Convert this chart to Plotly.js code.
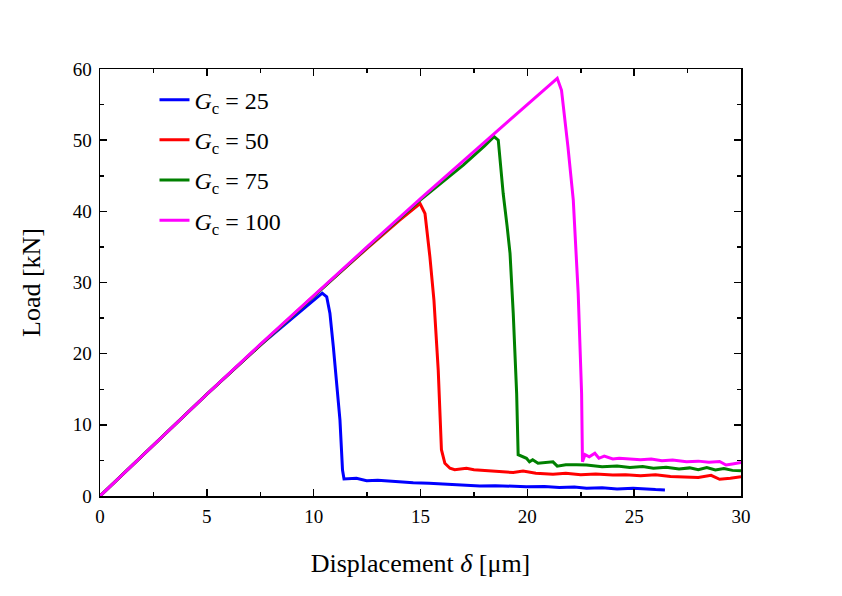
<!DOCTYPE html>
<html>
<head>
<meta charset="utf-8">
<script src="https://cdn.plot.ly/plotly-3.0.1.min.js"></script>
<style>
  html, body { margin: 0; padding: 0; background: #fff; }
  #chart { width: 842px; height: 596px; }
</style>
</head>
<body>
<div id="chart"></div>
<script>
// values
const seriesNames = ['<i>G</i><sub>c</sub> = 25', '<i>G</i><sub>c</sub> = 50',
                     '<i>G</i><sub>c</sub> = 75', '<i>G</i><sub>c</sub> = 100'];

const gc25X = [0, 2.5, 5, 7.5, 9.0, 9.8, 10.4, 10.61, 10.76, 10.92, 11.07, 11.23, 11.35, 11.42,
    12.0, 12.48, 13.0, 13.6, 14.66, 15.4, 16.22, 17.0, 17.78, 18.5, 19.2, 19.96, 20.8, 21.5,
    22.2, 22.77, 23.5, 24.2, 24.95, 25.5, 26.0, 26.44];
const gc25Y = [0, 7.2, 14.3, 21.2, 25.0, 26.9, 28.5, 28.0, 25.7, 21.0, 16.3, 10.7, 3.65, 2.4,
    2.5, 2.15, 2.2, 2.05, 1.87, 1.8, 1.68, 1.6, 1.4, 1.45, 1.4, 1.3, 1.35, 1.2,
    1.25, 1.08, 1.15, 1.0, 1.1, 0.95, 0.9, 0.85];

const gc50X = [0, 2.5, 5, 7.5, 10, 12.5, 14.0, 14.98, 15.21, 15.44, 15.63, 15.83, 15.94, 15.98,
    16.14, 16.38, 16.6, 16.9, 17.15, 17.5, 18.0, 18.6, 19.34, 19.8, 20.4, 21.2, 21.8, 22.5,
    23.2, 24.0, 24.6, 25.3, 26.0, 26.7, 27.45, 28.0, 28.6, 29.0, 29.5, 30.0];
const gc50Y = [0, 7.2, 14.3, 21.2, 28.1, 34.8, 38.7, 41.1, 39.7, 33.6, 27.5, 17.7, 10.7, 6.5,
    4.6, 3.9, 3.7, 3.8, 3.9, 3.7, 3.6, 3.5, 3.3, 3.5, 3.2, 3.05, 3.2, 3.0,
    3.1, 2.95, 3.0, 2.85, 3.0, 2.75, 2.7, 2.6, 2.9, 2.35, 2.5, 2.7];

const gc75X = [0, 2.5, 5, 7.5, 10, 12.5, 15, 17.0, 18.0, 18.44, 18.64, 18.87, 19.05, 19.19,
    19.34, 19.44, 19.5, 19.57, 19.75, 19.96, 20.1, 20.25, 20.5, 20.9, 21.2, 21.4, 21.8, 22.3,
    22.77, 23.5, 24.2, 24.8, 25.4, 25.9, 26.5, 27.1, 27.6, 28.0, 28.4, 28.8, 29.2, 29.6, 30.0];
const gc75Y = [0, 7.2, 14.3, 21.2, 28.1, 34.9, 41.6, 46.5, 49.2, 50.5, 50.0, 42.5, 38.0, 34.1,
    25.7, 19.0, 14.4, 5.8, 5.6, 5.3, 4.8, 5.1, 4.6, 4.7, 4.8, 4.2, 4.4, 4.4,
    4.36, 4.1, 4.2, 4.0, 4.15, 3.9, 4.05, 3.8, 3.95, 3.7, 4.0, 3.65, 3.85, 3.6, 3.55];

const gc100X = [0, 2.5, 5, 7.5, 10, 12.5, 15, 17.5, 20, 21.4, 21.6, 21.76, 21.9, 22.15,
    22.38, 22.54, 22.58, 22.7, 22.9, 23.16, 23.35, 23.6, 24.0, 24.3, 24.8, 25.3, 25.8, 26.3,
    26.8, 27.45, 28.0, 28.5, 29.0, 29.3, 29.6, 30.0];
const gc100Y = [0, 7.2, 14.3, 21.3, 28.2, 35.0, 41.8, 48.4, 55.0, 58.7, 57.0, 52.8, 49.1, 41.6,
    28.5, 14.4, 4.8, 5.8, 5.5, 6.0, 5.3, 5.6, 5.2, 5.3, 5.25, 5.1, 5.2, 4.95,
    5.05, 4.82, 4.9, 4.75, 4.85, 4.36, 4.5, 4.7];

const colors = ['#0000ff', '#ff0000', '#008000', '#ff00ff'];
const xs = [gc25X, gc50X, gc75X, gc100X];
const ys = [gc25Y, gc50Y, gc75Y, gc100Y];

const data = xs.map((x, i) => ({
    x: x,
    y: ys[i],
    name: seriesNames[i],
    legendgroup: 'g' + i, // separate groups so tracegroupgap spaces the entries
    type: 'scatter',
    mode: 'lines',
    line: { color: colors[i], width: 3 },
}));

const serif = 'Liberation Serif, Times New Roman, serif';

const axisBase = {
    showgrid: false,
    zeroline: false,
    showline: true,
    linecolor: '#000',
    linewidth: 1.5,
    mirror: 'allticks',
    ticks: 'inside',
    ticklen: 7,
    tickwidth: 1.5,
    tickcolor: '#000',
    ticklabelstandoff: 3,
    tickfont: { family: serif, size: 19, color: '#000' },
};

const layout = {
    width: 842,
    height: 596,
    margin: { l: 100, r: 101, t: 69, b: 100 },
    paper_bgcolor: '#fff',
    plot_bgcolor: '#fff',
    showlegend: true,
    legend: {
        x: 0.085, y: 0.98,
        xanchor: 'left', yanchor: 'top',
        bgcolor: 'rgba(0,0,0,0)',
        font: { family: serif, size: 24, color: '#000' },
        tracegroupgap: 6,
    },
    xaxis: Object.assign({}, axisBase, {
        range: [0, 30],
        dtick: 5,
        minor: { ticks: 'inside', ticklen: 4, tickwidth: 1.5, tickcolor: '#000', dtick: 2.5 },
        title: { text: 'Displacement <i>δ</i> [μm]', font: { family: serif, size: 26, color: '#000' }, standoff: 27 },
    }),
    yaxis: Object.assign({}, axisBase, {
        range: [0, 60],
        dtick: 10,
        minor: { ticks: 'inside', ticklen: 4, tickwidth: 1.5, tickcolor: '#000', dtick: 5 },
        title: { text: 'Load [kN]', font: { family: serif, size: 26, color: '#000' }, standoff: 24 },
    }),
};

Plotly.newPlot('chart', data, layout, { displayModeBar: false, staticPlot: true });
</script>
</body>
</html>
